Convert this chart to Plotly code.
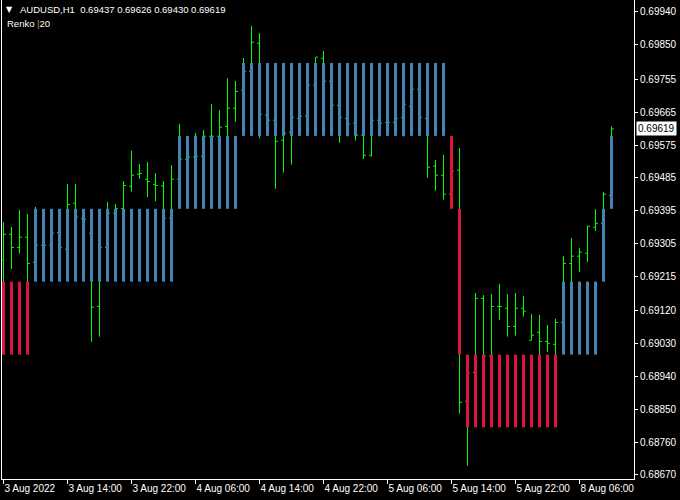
import plotly.graph_objects as go

# ---------------- data (AUDUSD H1, 77 bars) ----------------
bar_index = list(range(77))

opens = [0.69259, 0.69330, 0.69294, 0.69322, 0.69253, 0.69300, 0.69300, 0.69335, 0.69289, 0.69415,
         0.69374, 0.69333, 0.69132, 0.69294, 0.69388, 0.69401, 0.69462, 0.69495, 0.69481, 0.69467,
         0.69463, 0.69374, 0.69481, 0.69536, 0.69542, 0.69544, 0.69599, 0.69599, 0.69626, 0.69676,
         0.69725, 0.69777, 0.69854, 0.69657, 0.69643, 0.69588, 0.69610, 0.69648, 0.69654, 0.69739,
         0.69813, 0.69750, 0.69684, 0.69648, 0.69635, 0.69602, 0.69547, 0.69643, 0.69637, 0.69637,
         0.69651, 0.69681, 0.69728, 0.69648, 0.69517, 0.69492, 0.69440, 0.69506, 0.68872, 0.68951,
         0.69154, 0.68996, 0.69132, 0.69127, 0.69077, 0.69127, 0.69039, 0.69061, 0.69036, 0.69028,
         0.69088, 0.69250, 0.69270, 0.69278, 0.69349, 0.69360, 0.69437]

highs = [0.69364, 0.69350, 0.69397, 0.69386, 0.69405, 0.69320, 0.69347, 0.69347, 0.69468, 0.69468,
         0.69394, 0.69347, 0.69303, 0.69419, 0.69413, 0.69476, 0.69559, 0.69523, 0.69528, 0.69498,
         0.69476, 0.69520, 0.69633, 0.69561, 0.69608, 0.69616, 0.69688, 0.69671, 0.69758, 0.69751,
         0.69814, 0.69902, 0.69882, 0.69671, 0.69657, 0.69622, 0.69666, 0.69671, 0.69753, 0.69816,
         0.69833, 0.69764, 0.69699, 0.69666, 0.69649, 0.69622, 0.69660, 0.69657, 0.69655, 0.69666,
         0.69699, 0.69742, 0.69737, 0.69666, 0.69534, 0.69548, 0.69534, 0.69567, 0.68980, 0.69169,
         0.69163, 0.69166, 0.69194, 0.69166, 0.69169, 0.69161, 0.69111, 0.69109, 0.69081, 0.69098,
         0.69270, 0.69320, 0.69292, 0.69353, 0.69399, 0.69446, 0.69626]

lows = [0.69177, 0.69235, 0.69277, 0.69199, 0.69243, 0.69281, 0.69287, 0.69281, 0.69273, 0.69364,
        0.69347, 0.69035, 0.69049, 0.69281, 0.69369, 0.69391, 0.69447, 0.69482, 0.69432, 0.69421,
        0.69364, 0.69364, 0.69465, 0.69520, 0.69528, 0.69528, 0.69575, 0.69583, 0.69575, 0.69639,
        0.69712, 0.69764, 0.69593, 0.69627, 0.69455, 0.69499, 0.69521, 0.69633, 0.69644, 0.69726,
        0.69737, 0.69671, 0.69581, 0.69598, 0.69587, 0.69537, 0.69543, 0.69598, 0.69622, 0.69624,
        0.69598, 0.69671, 0.69638, 0.69485, 0.69450, 0.69425, 0.69424, 0.68838, 0.68695, 0.68930,
        0.68971, 0.68980, 0.69095, 0.69049, 0.69052, 0.69104, 0.69039, 0.68991, 0.69007, 0.68991,
        0.69078, 0.69191, 0.69227, 0.69254, 0.69339, 0.69347, 0.69430]

closes = [0.69330, 0.69294, 0.69322, 0.69250, 0.69300, 0.69300, 0.69333, 0.69294, 0.69412, 0.69377,
          0.69371, 0.69130, 0.69294, 0.69388, 0.69401, 0.69464, 0.69492, 0.69497, 0.69475, 0.69464,
          0.69374, 0.69481, 0.69536, 0.69542, 0.69544, 0.69599, 0.69599, 0.69624, 0.69676, 0.69722,
          0.69777, 0.69857, 0.69659, 0.69643, 0.69585, 0.69607, 0.69651, 0.69654, 0.69739, 0.69816,
          0.69750, 0.69684, 0.69651, 0.69632, 0.69602, 0.69547, 0.69643, 0.69635, 0.69637, 0.69648,
          0.69687, 0.69728, 0.69651, 0.69514, 0.69492, 0.69440, 0.69503, 0.68869, 0.68949, 0.69154,
          0.68996, 0.69132, 0.69132, 0.69077, 0.69127, 0.69119, 0.69053, 0.69036, 0.69031, 0.69088,
          0.69250, 0.69270, 0.69281, 0.69352, 0.69360, 0.69440, 0.69619]

# Renko (box 20 pips) brick range shown at each bar, and its direction (+1 up, -1 down)
renko_lo = [0.6900, 0.6900, 0.6900, 0.6900,
            0.6920, 0.6920, 0.6920, 0.6920, 0.6920, 0.6920, 0.6920, 0.6920, 0.6920,
            0.6920, 0.6920, 0.6920, 0.6920, 0.6920, 0.6920, 0.6920, 0.6920, 0.6920,
            0.6940, 0.6940, 0.6940, 0.6940, 0.6940, 0.6940, 0.6940, 0.6940,
            0.6960, 0.6960, 0.6960, 0.6960, 0.6960, 0.6960, 0.6960, 0.6960, 0.6960,
            0.6960, 0.6960, 0.6960, 0.6960, 0.6960, 0.6960, 0.6960, 0.6960, 0.6960,
            0.6960, 0.6960, 0.6960, 0.6960, 0.6960, 0.6960, 0.6960, 0.6960,
            0.6940, 0.6900,
            0.6880, 0.6880, 0.6880, 0.6880, 0.6880, 0.6880, 0.6880, 0.6880, 0.6880,
            0.6880, 0.6880, 0.6880,
            0.6900, 0.6900, 0.6900, 0.6900, 0.6900,
            0.6920, 0.6940]
renko_hi = [0.6920, 0.6920, 0.6920, 0.6920,
            0.6940, 0.6940, 0.6940, 0.6940, 0.6940, 0.6940, 0.6940, 0.6940, 0.6940,
            0.6940, 0.6940, 0.6940, 0.6940, 0.6940, 0.6940, 0.6940, 0.6940, 0.6940,
            0.6960, 0.6960, 0.6960, 0.6960, 0.6960, 0.6960, 0.6960, 0.6960,
            0.6980, 0.6980, 0.6980, 0.6980, 0.6980, 0.6980, 0.6980, 0.6980, 0.6980,
            0.6980, 0.6980, 0.6980, 0.6980, 0.6980, 0.6980, 0.6980, 0.6980, 0.6980,
            0.6980, 0.6980, 0.6980, 0.6980, 0.6980, 0.6980, 0.6980, 0.6980,
            0.6960, 0.6940,
            0.6900, 0.6900, 0.6900, 0.6900, 0.6900, 0.6900, 0.6900, 0.6900, 0.6900,
            0.6900, 0.6900, 0.6900,
            0.6920, 0.6920, 0.6920, 0.6920, 0.6920,
            0.6940, 0.6960]
renko_dir = [-1, -1, -1, -1,
             1, 1, 1, 1, 1, 1, 1, 1, 1, 1, 1, 1, 1, 1, 1, 1, 1, 1,
             1, 1, 1, 1, 1, 1, 1, 1,
             1, 1, 1, 1, 1, 1, 1, 1, 1, 1, 1, 1, 1, 1, 1, 1, 1, 1, 1, 1, 1, 1, 1, 1, 1, 1,
             -1, -1,
             -1, -1, -1, -1, -1, -1, -1, -1, -1, -1, -1, -1,
             1, 1, 1, 1, 1,
             1, 1]

time_tick_bars = [0, 8, 16, 24, 32, 40, 48, 56, 64, 72]
time_tick_labels = ["3 Aug 2022", "3 Aug 14:00", "3 Aug 22:00", "4 Aug 06:00", "4 Aug 14:00",
                    "4 Aug 22:00", "5 Aug 06:00", "5 Aug 14:00", "5 Aug 22:00", "8 Aug 06:00"]

price_tick_labels = ["0.69940", "0.69850", "0.69755", "0.69665", "0.69575", "0.69485", "0.69395",
                     "0.69305", "0.69215", "0.69120", "0.69030", "0.68940", "0.68850", "0.68760",
                     "0.68670"]

symbol = "AUDUSD,H1"
renko_name = "Renko"
renko_box = 20

# ---------------- figure ----------------
GREEN = "#00FF00"
BLUE = "#4682B4"
RED = "#DC143C"
FONT = "Liberation Sans"

fig = go.Figure()

fig.add_trace(go.Ohlc(
    x=bar_index, open=opens, high=highs, low=lows, close=closes,
    increasing=dict(line=dict(color=GREEN, width=1)),
    decreasing=dict(line=dict(color=GREEN, width=1)),
    tickwidth=0.3, showlegend=False, hoverinfo="skip",
))

# Renko bricks drawn as thick vertical segments on top of the price bars
for direction, color in ((1, BLUE), (-1, RED)):
    xs, ys = [], []
    for i, lo, hi, d in zip(bar_index, renko_lo, renko_hi, renko_dir):
        if d == direction:
            xs += [i, i, None]
            ys += [lo, hi, None]
    fig.add_trace(go.Scatter(x=xs, y=ys, mode="lines",
                             line=dict(color=color, width=3),
                             showlegend=False, hoverinfo="skip"))

px_per_bar = 8
plot_left, plot_right = 2, 634
x0 = -1.5 / px_per_bar
x1 = x0 + (plot_right - plot_left) / px_per_bar

fig.update_layout(
    width=680, height=500,
    margin=dict(l=plot_left, r=680 - plot_right, t=0, b=21),
    paper_bgcolor="black", plot_bgcolor="black",
    font=dict(family=FONT, size=10, color="white"),
    showlegend=False,
    xaxis=dict(
        range=[x0, x1], rangeslider=dict(visible=False),
        showgrid=False, zeroline=False,
        showline=True, linecolor="white", linewidth=1,
        tickmode="array", tickvals=time_tick_bars, ticktext=time_tick_labels,
        ticks="outside", ticklen=4, tickcolor="white", tickwidth=1,
        ticklabelposition="outside right",
        tickfont=dict(family=FONT, size=10, color="white"),
    ),
    yaxis=dict(
        side="right", range=[0.686585, 0.699729],
        showgrid=False, zeroline=False,
        showline=True, linecolor="white", linewidth=1, mirror=True,
        tickmode="array", tickvals=[float(t) for t in price_tick_labels], ticktext=price_tick_labels,
        ticks="outside", ticklen=3, tickcolor="white", tickwidth=1,
        tickfont=dict(family=FONT, size=10, color="white"),
    ),
)

header = f"{symbol}  {opens[-1]:.5f} {highs[-1]:.5f} {lows[-1]:.5f} {closes[-1]:.5f}"
fig.add_annotation(xref="paper", yref="paper", x=0, y=1, xanchor="left", yanchor="top",
                   xshift=2, yshift=-3, text="▼", showarrow=False,
                   font=dict(family="DejaVu Sans", size=8, color="white"))
fig.add_annotation(xref="paper", yref="paper", x=0, y=1, xanchor="left", yanchor="top",
                   xshift=16, yshift=-2, text=header, showarrow=False,
                   font=dict(family=FONT, size=9.5, color="white"))
fig.add_annotation(xref="paper", yref="paper", x=0, y=1, xanchor="left", yanchor="top",
                   xshift=3, yshift=-16,
                   text=f"{renko_name} <span style='color:#E08A2A'>|</span>{renko_box}",
                   showarrow=False, font=dict(family=FONT, size=9.5, color="white"))

# current price label on the price scale
fig.add_annotation(xref="paper", yref="y", x=1, y=closes[-1], xanchor="left", yanchor="middle",
                   xshift=2, text=f"{closes[-1]:.5f}", showarrow=False, bgcolor="white",
                   borderpad=1, font=dict(family=FONT, size=10, color="black"))

fig.write_html("out.html", config={"displayModeBar": False},
               post_script="document.body.style.margin='0';document.body.style.padding='0';"
                           "document.body.style.background='black';")
